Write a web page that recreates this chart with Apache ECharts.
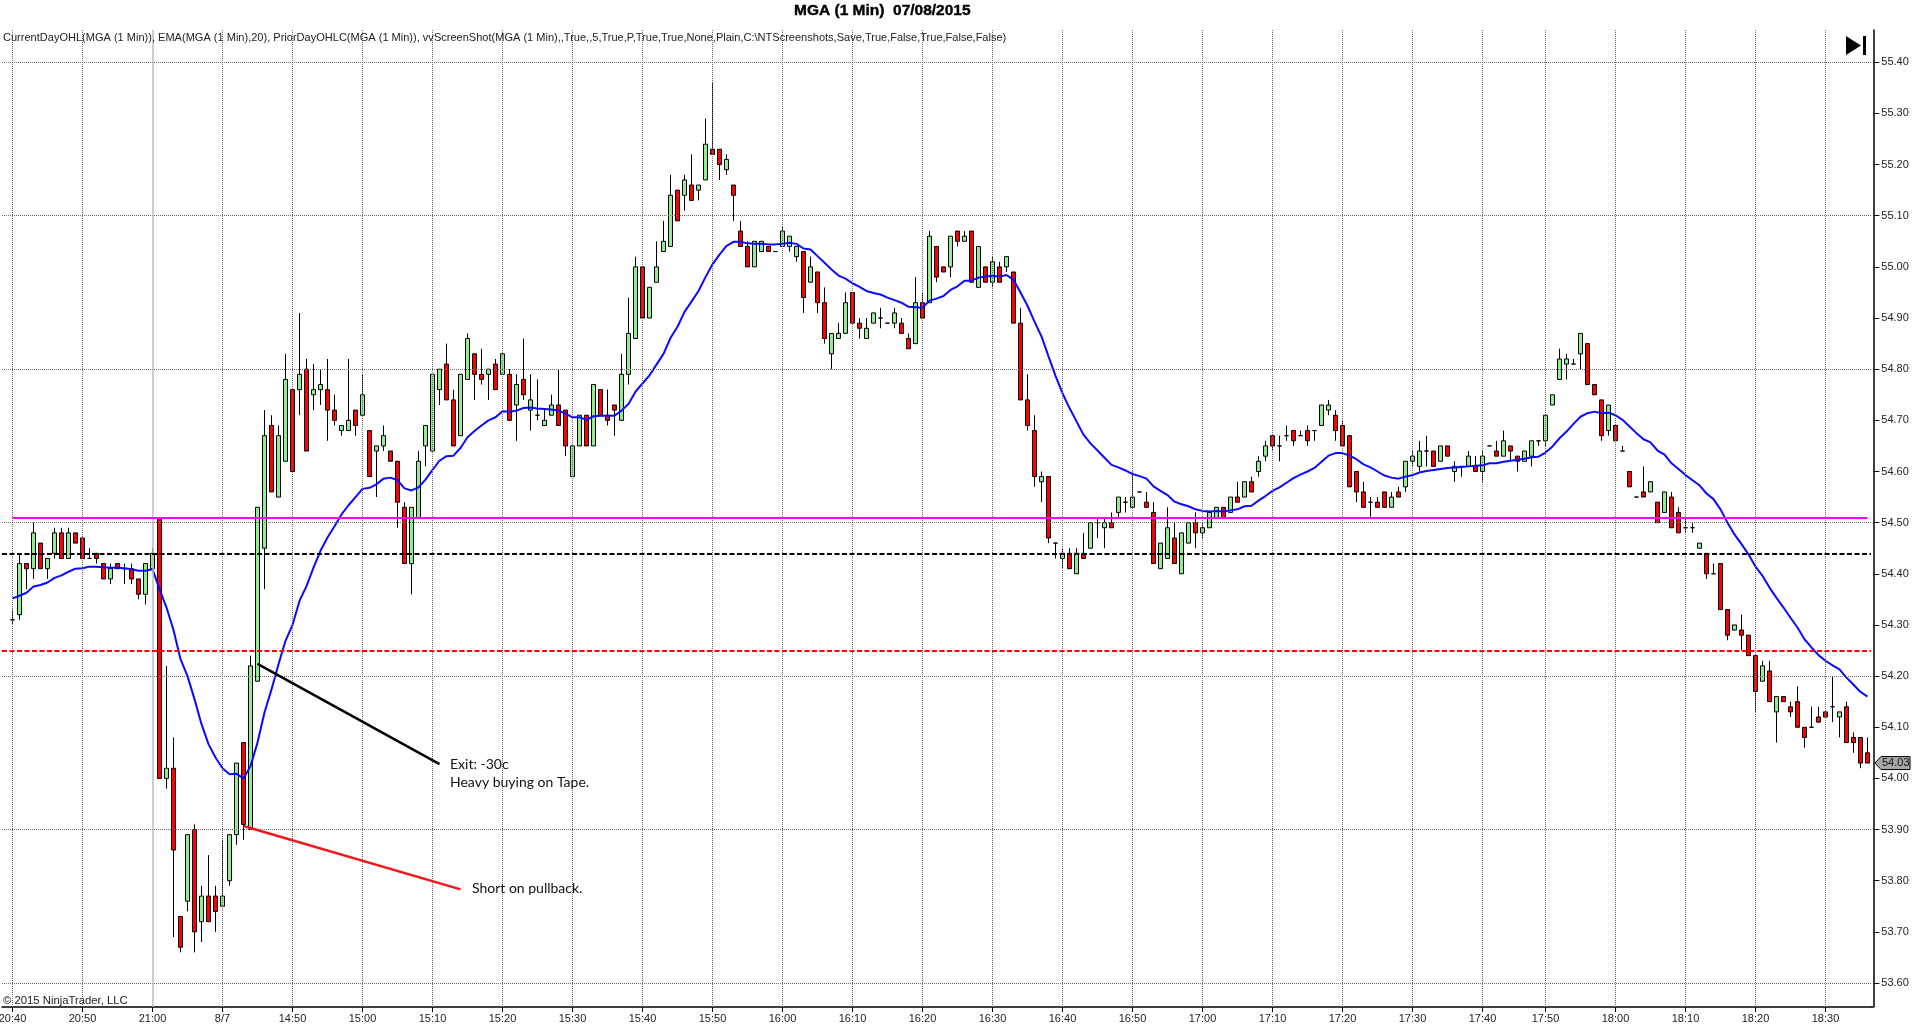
<!DOCTYPE html>
<html><head><meta charset="utf-8"><title>MGA (1 Min) 07/08/2015</title>
<style>html,body{margin:0;padding:0;background:#fff}#c{width:1920px;height:1034px}</style>
<script src="https://cdn.jsdelivr.net/npm/echarts@6/dist/echarts.min.js"></script>
</head><body><div id="c"></div>
<script>
const opens=[54.31,54.32,54.42,54.41,54.46,54.41,54.44,54.48,54.43,54.48,
54.47,54.43,54.44,54.42,54.39,54.42,54.41,54.41,54.39,54.36,
54.41,54.51,54.00,54.02,53.73,53.76,53.90,53.72,53.77,53.77,
53.75,53.80,53.89,54.07,53.90,54.19,54.45,54.69,54.55,54.62,
54.76,54.76,54.80,54.75,54.76,54.76,54.72,54.68,54.68,54.72,
54.71,54.68,54.64,54.65,54.64,54.62,54.53,54.42,54.51,54.65,
54.64,54.76,54.81,54.74,54.67,54.78,54.83,54.79,54.79,54.81,
54.79,54.79,54.73,54.78,54.72,54.71,54.69,54.71,54.73,54.72,
54.59,54.65,54.71,54.65,54.76,54.71,54.73,54.70,54.79,54.86,
55.00,54.90,54.97,55.03,55.04,55.15,55.14,55.16,55.15,55.17,
55.23,55.23,55.19,55.16,55.07,55.04,55.00,55.03,55.04,55.03,
55.04,55.04,55.02,55.03,54.97,54.99,54.93,54.83,54.86,54.87,
54.95,54.89,54.86,54.89,54.90,54.89,54.89,54.89,54.86,54.85,
54.93,54.93,55.04,55.00,55.00,55.07,55.05,55.07,54.96,55.00,
54.97,55.00,55.00,54.99,54.89,54.74,54.68,54.58,54.59,54.46,
54.43,54.44,54.40,54.44,54.45,54.50,54.49,54.50,54.52,54.54,
54.53,54.56,54.54,54.52,54.41,54.43,54.47,54.40,54.46,54.50,
54.48,54.49,54.51,54.53,54.52,54.55,54.55,54.58,54.60,54.63,
54.67,54.65,54.67,54.68,54.67,54.68,54.68,54.69,54.72,54.71,
54.69,54.67,54.60,54.56,54.54,54.54,54.56,54.53,54.56,54.57,
54.62,54.61,54.64,54.64,54.62,54.65,54.60,54.61,54.61,54.61,
54.60,54.65,54.64,54.63,54.65,54.63,54.62,54.63,54.66,54.66,
54.73,54.78,54.81,54.81,54.83,54.85,54.77,54.74,54.68,54.69,
54.64,54.60,54.55,54.56,54.56,54.54,54.52,54.55,54.52,54.49,
54.49,54.45,54.44,54.40,54.42,54.33,54.29,54.29,54.28,54.24,
54.19,54.21,54.13,54.16,54.14,54.15,54.10,54.10,54.12,54.13,
54.14,54.12,54.14,54.08,54.08,54.05];
const closes=[54.31,54.42,54.41,54.48,54.41,54.43,54.48,54.43,54.48,54.46,
54.43,54.43,54.43,54.39,54.41,54.41,54.41,54.39,54.36,54.42,
54.44,54.00,54.02,53.86,53.67,53.89,53.70,53.77,53.72,53.74,
53.77,53.89,54.03,53.91,54.22,54.53,54.67,54.56,54.67,54.78,
54.60,54.79,54.64,54.76,54.77,54.72,54.70,54.69,54.70,54.69,
54.75,54.59,54.65,54.67,54.62,54.54,54.42,54.53,54.62,54.69,
54.79,54.80,54.74,54.65,54.79,54.86,54.79,54.78,54.80,54.76,
54.83,54.70,54.77,54.75,54.74,54.71,54.70,54.73,54.69,54.65,
54.65,54.71,54.65,54.77,54.71,54.70,54.72,54.79,54.87,55.00,
54.90,54.96,55.00,55.05,55.14,55.09,55.17,55.13,55.16,55.24,
55.22,55.20,55.21,55.14,55.04,55.00,55.05,55.05,55.03,55.03,
55.07,55.06,55.04,54.94,55.00,54.93,54.86,54.87,54.87,54.93,
54.89,54.88,54.88,54.91,54.90,54.89,54.91,54.87,54.84,54.93,
54.90,55.06,54.98,54.99,55.06,55.05,55.06,54.97,55.04,54.97,
55.01,54.97,55.02,54.89,54.74,54.69,54.59,54.59,54.47,54.46,
54.44,54.41,54.44,54.43,54.50,54.50,54.50,54.49,54.55,54.54,
54.55,54.56,54.53,54.42,54.46,54.49,54.42,54.48,54.50,54.48,
54.49,54.52,54.53,54.51,54.55,54.54,54.58,54.56,54.62,54.65,
54.65,54.65,54.67,54.66,54.67,54.66,54.68,54.73,54.73,54.68,
54.65,54.57,54.56,54.53,54.54,54.53,54.53,54.55,54.55,54.62,
54.63,54.64,54.64,54.61,54.65,54.63,54.61,54.61,54.63,54.60,
54.63,54.65,54.63,54.66,54.64,54.62,54.64,54.66,54.66,54.71,
54.75,54.82,54.82,54.81,54.87,54.77,54.75,54.67,54.73,54.66,
54.64,54.57,54.55,54.55,54.58,54.50,54.56,54.49,54.48,54.49,
54.49,54.46,54.40,54.40,54.33,54.28,54.30,54.28,54.24,54.17,
54.22,54.15,54.16,54.15,54.13,54.10,54.08,54.10,54.11,54.12,
54.14,54.13,54.07,54.07,54.03,54.03];
const lows=[54.30,54.31,54.37,54.39,54.41,54.39,54.43,54.43,54.43,54.46,
54.43,54.43,54.42,54.39,54.38,54.41,54.38,54.38,54.35,54.34,
54.41,54.00,53.98,53.69,53.66,53.74,53.66,53.68,53.72,53.70,
53.75,53.79,53.87,53.88,53.90,54.19,54.37,54.56,54.55,54.62,
54.60,54.71,54.64,54.72,54.73,54.66,54.69,54.67,54.68,54.67,
54.71,54.59,54.55,54.64,54.62,54.49,54.42,54.36,54.51,54.61,
54.64,54.73,54.74,54.65,54.67,54.78,54.74,54.77,54.74,54.76,
54.79,54.70,54.66,54.74,54.68,54.70,54.69,54.71,54.69,54.63,
54.59,54.65,54.65,54.65,54.71,54.69,54.67,54.70,54.77,54.86,
54.90,54.90,54.97,55.03,55.04,55.09,55.11,55.13,55.13,55.17,
55.22,55.17,55.18,55.09,55.04,55.00,55.00,55.03,55.03,55.03,
55.04,55.03,55.01,54.91,54.97,54.91,54.85,54.80,54.86,54.87,
54.89,54.86,54.86,54.89,54.88,54.89,54.88,54.87,54.84,54.85,
54.90,54.93,54.97,54.99,54.98,55.04,55.05,54.97,54.96,54.97,
54.96,54.97,54.99,54.89,54.74,54.68,54.57,54.54,54.46,54.43,
54.41,54.41,54.40,54.43,54.45,54.47,54.45,54.49,54.51,54.52,
54.53,54.56,54.53,54.42,54.41,54.43,54.42,54.40,54.46,54.45,
54.47,54.49,54.51,54.51,54.52,54.54,54.55,54.56,54.59,54.62,
54.64,54.62,54.66,54.65,54.67,54.65,54.66,54.69,54.71,54.66,
54.65,54.57,54.54,54.53,54.51,54.53,54.53,54.53,54.55,54.56,
54.61,54.60,54.61,54.61,54.62,54.63,54.58,54.59,54.61,54.60,
54.58,54.65,54.63,54.63,54.62,54.60,54.62,54.61,54.65,54.65,
54.73,54.78,54.78,54.81,54.80,54.77,54.75,54.66,54.67,54.66,
54.64,54.57,54.55,54.55,54.56,54.50,54.52,54.49,54.48,54.48,
54.48,54.45,54.39,54.40,54.33,54.27,54.29,54.25,54.24,54.13,
54.19,54.15,54.07,54.15,54.12,54.10,54.06,54.10,54.11,54.12,
54.11,54.08,54.07,54.05,54.02,54.03];
const highs=[54.33,54.44,54.42,54.50,54.46,54.43,54.49,54.49,54.49,54.48,
54.47,54.45,54.44,54.42,54.42,54.42,54.42,54.42,54.39,54.42,
54.45,54.51,54.22,54.08,53.73,53.89,53.91,53.79,53.85,53.79,
53.88,53.89,54.03,54.07,54.24,54.53,54.72,54.71,54.69,54.83,
54.76,54.91,54.82,54.81,54.80,54.82,54.75,54.69,54.82,54.72,
54.79,54.68,54.65,54.69,54.64,54.62,54.54,54.53,54.64,54.69,
54.79,54.80,54.85,54.76,54.79,54.87,54.83,54.84,54.80,54.82,
54.83,54.80,54.79,54.86,54.79,54.78,54.72,54.75,54.80,54.72,
54.65,54.71,54.71,54.77,54.76,54.76,54.73,54.83,54.94,55.02,
55.00,54.96,55.05,55.09,55.18,55.15,55.18,55.22,55.16,55.29,
55.36,55.23,55.22,55.16,55.09,55.05,55.05,55.05,55.04,55.03,
55.08,55.06,55.04,55.03,55.02,54.99,54.96,54.87,54.89,54.95,
54.95,54.90,54.90,54.91,54.92,54.89,54.92,54.90,54.87,54.98,
54.95,55.07,55.04,55.00,55.06,55.07,55.07,55.07,55.04,55.00,
55.02,55.01,55.02,54.99,54.92,54.79,54.71,54.60,54.59,54.46,
54.45,54.45,54.45,54.48,54.50,54.51,54.51,54.52,54.55,54.55,
54.60,54.56,54.56,54.54,54.46,54.53,54.50,54.48,54.50,54.52,
54.50,54.52,54.53,54.53,54.55,54.58,54.58,54.59,54.63,54.66,
54.67,54.67,54.69,54.68,54.68,54.69,54.68,54.73,54.74,54.72,
54.70,54.67,54.60,54.58,54.55,54.55,54.56,54.56,54.57,54.62,
54.64,54.66,54.67,54.64,54.65,54.65,54.62,54.61,54.64,54.63,
54.64,54.65,54.66,54.68,54.65,54.63,54.64,54.66,54.66,54.71,
54.75,54.84,54.83,54.82,54.87,54.85,54.77,54.74,54.73,54.69,
54.65,54.60,54.55,54.61,54.58,54.54,54.56,54.56,54.53,54.51,
54.50,54.46,54.44,54.42,54.42,54.33,54.30,54.32,54.28,54.24,
54.23,54.23,54.16,54.16,54.15,54.18,54.10,54.14,54.14,54.13,
54.20,54.13,54.15,54.09,54.08,54.08];
const ema=[54.352,54.357,54.363,54.375,54.378,54.383,54.392,54.397,54.404,54.41,
54.411,54.414,54.414,54.413,54.412,54.412,54.411,54.409,54.406,54.406,
54.409,54.37,54.334,54.29,54.233,54.2,54.155,54.106,54.067,54.041,
54.02,54.008,54.009,54.0,54.024,54.07,54.129,54.174,54.223,54.269,
54.30,54.347,54.376,54.412,54.445,54.471,54.493,54.516,54.534,54.55,
54.566,54.568,54.575,54.586,54.588,54.583,54.567,54.563,54.569,54.584,
54.603,54.621,54.63,54.631,54.646,54.667,54.679,54.69,54.70,54.706,
54.718,54.717,54.719,54.724,54.725,54.723,54.722,54.721,54.719,54.713,
54.706,54.706,54.701,54.708,54.709,54.709,54.709,54.719,54.732,54.756,
54.772,54.788,54.809,54.83,54.861,54.883,54.912,54.932,54.953,54.98,
55.005,55.024,55.041,55.049,55.049,55.046,55.045,55.045,55.044,55.044,
55.045,55.047,55.045,55.036,55.034,55.021,55.008,54.995,54.983,54.977,
54.968,54.961,54.953,54.949,54.946,54.94,54.935,54.93,54.922,54.921,
54.92,54.934,54.938,54.943,54.955,54.962,54.973,54.973,54.979,54.981,
54.982,54.981,54.984,54.975,54.95,54.924,54.893,54.864,54.825,54.787,
54.753,54.724,54.698,54.672,54.655,54.641,54.627,54.613,54.608,54.602,
54.595,54.591,54.586,54.571,54.562,54.554,54.541,54.536,54.532,54.526,
54.523,54.522,54.523,54.522,54.524,54.526,54.532,54.533,54.543,54.552,
54.562,54.569,54.578,54.587,54.594,54.60,54.607,54.619,54.631,54.636,
54.636,54.631,54.624,54.614,54.608,54.60,54.592,54.588,54.586,54.59,
54.593,54.598,54.601,54.603,54.605,54.607,54.608,54.609,54.61,54.611,
54.612,54.616,54.616,54.619,54.621,54.623,54.625,54.628,54.629,54.637,
54.649,54.665,54.678,54.693,54.707,54.714,54.717,54.714,54.715,54.710,
54.701,54.688,54.675,54.663,54.657,54.641,54.633,54.616,54.605,54.593,
54.583,54.573,54.557,54.546,54.526,54.50,54.477,54.458,54.438,54.414,
54.396,54.373,54.353,54.334,54.314,54.295,54.272,54.256,54.241,54.23,
54.221,54.213,54.197,54.183,54.169,54.16];
const tickBars=[0,10,20,30,40,50,60,70,80,90,100,110,120,130,140,150,160,170,180,190,200,210,219,229,239,249,259];
const tickLabels=['20:40','20:50','21:00','8/7','14:50','15:00','15:10','15:20','15:30','15:40','15:50','16:00','16:10','16:20','16:30','16:40','16:50','17:00','17:10','17:20','17:30','17:40','17:50','18:00','18:10','18:20','18:30'];
const priceTicks=[53.6,53.7,53.8,53.9,54.0,54.1,54.2,54.3,54.4,54.5,54.6,54.7,54.8,54.9,55.0,55.1,55.2,55.3,55.4];
const priceGrid=[53.6,53.9,54.2,54.5,54.8,55.1,55.4];
const sessionBar=20;
const priorHigh=54.51, priorClose=54.441, priorLow=54.251;
const exitLineBars=[35,61], exitLinePrices=[54.224,54.028];
const shortLineBars=[33,64], shortLinePrices=[53.907,53.783];

const pad=1;
const labelAt={};tickBars.forEach((b,i)=>{labelAt[b+pad]=tickLabels[i]});
const categories=Array.from({length:opens.length+pad},(_,k)=>labelAt[k]||('bar'+(k-pad)));
const isTick=k=>labelAt[k]!==undefined;
const candles=[['-','-','-','-']].concat(opens.map((o,i)=>[o,closes[i],lows[i],highs[i]]));
const emaData=[null].concat(ema);
const toLine=(b,p)=>b.map((x,i)=>[x+pad,p[i]]);

const dot={color:'#6a6a6a',type:[1,1],width:1};
const chart=echarts.init(document.getElementById('c'),null,{renderer:'canvas'});
const option={
 animation:false,backgroundColor:'#fff',
 textStyle:{fontFamily:'"Liberation Sans",Arial,sans-serif'},
 title:[{text:'MGA (1 Min)  07/08/2015',left:794,top:3,padding:0,textStyle:{fontSize:15.5,fontWeight:'bold',color:'#000',textBorderColor:'#000',textBorderWidth:0.4,fontFamily:'"Liberation Sans",Arial,sans-serif'}}],
 grid:{left:2,top:30,width:1869,height:977,containLabel:false,outerBoundsMode:'none'},
 xAxis:{type:'category',data:categories,boundaryGap:true,
  axisLine:{onZero:false,lineStyle:{color:'#000',width:1.5}},
  axisTick:{show:true,alignWithLabel:true,interval:(k)=>isTick(k),length:5,lineStyle:{color:'#000'}},
  axisLabel:{interval:(k)=>isTick(k),color:'#222',fontSize:11,margin:6,hideOverlap:false},
  splitLine:{show:false}},
 yAxis:{type:'value',position:'right',offset:2.3,min:53.5531,max:55.4631,scale:true,
  axisLine:{show:true,onZero:false,lineStyle:{color:'#000',width:1.5}},
  axisTick:{show:true,length:6,customValues:priceTicks,lineStyle:{color:'#000'}},
  axisLabel:{customValues:priceTicks,formatter:v=>Number(v).toFixed(2),color:'#222',fontSize:11,margin:8},
  splitLine:{show:false}},
 series:[
  {name:'grid',type:'line',data:[],z:1,silent:true,showSymbol:false,
   markLine:{silent:true,symbol:'none',animation:false,label:{show:false},lineStyle:dot,
    data:priceGrid.map(v=>({yAxis:v})).concat(tickBars.map(b=>({xAxis:b+pad,lineStyle:b===sessionBar?{color:'#bdbdbd',type:'solid',width:1.5}:dot})))}},
  {name:'MGA',type:'candlestick',data:candles,z:2,barWidth:5,
   itemStyle:{color:'#90ee90',color0:'#ff0000',borderColor:'#000',borderColor0:'#000',borderColorDoji:'#000',borderWidth:1}},
  {name:'EMA',type:'line',data:emaData,z:4,showSymbol:false,smooth:false,connectNulls:false,
   lineStyle:{color:'#0a0aff',width:2}},
  {name:'levels',type:'line',data:[],z:3,silent:true,showSymbol:false,
   markLine:{silent:true,symbol:'none',animation:false,label:{show:false},
    data:[
     [{xAxis:pad,yAxis:priorHigh,lineStyle:{color:'#ff00ff',type:'solid',width:2}},{xAxis:opens.length-1+pad,yAxis:priorHigh}],
     {yAxis:priorClose,lineStyle:{color:'#000',type:[5,2.5],width:2}},
     {yAxis:priorLow,lineStyle:{color:'#ff0000',type:[5,2.5],width:2}}
    ]}},
  {name:'exit',type:'line',data:toLine(exitLineBars,exitLinePrices),z:5,showSymbol:false,lineStyle:{color:'#000',width:2.5}},
  {name:'short',type:'line',data:toLine(shortLineBars,shortLinePrices),z:5,showSymbol:false,lineStyle:{color:'#f01818',width:2.5}}
 ],
 graphic:[]
};
chart.setOption(option);
const lastY=chart.convertToPixel({yAxisIndex:0},closes[closes.length-1]);
const note=(t,x,y)=>({type:'text',x:x,y:y,z:50,style:{text:t,fontFamily:'Lato,"Open Sans",sans-serif',fontSize:14,fill:'#111',textVerticalAlign:'middle'}});
chart.setOption({graphic:[
 {type:'line',z:50,shape:{x1:1871,y1:1007,x2:1873.5,y2:1007},style:{stroke:'#000',lineWidth:1.5}},
 {type:'text',x:3,y:38,z:50,style:{text:'CurrentDayOHL(MGA (1 Min)), EMA(MGA (1 Min),20), PriorDayOHLC(MGA (1 Min)), vvScreenShot(MGA (1 Min),,True,,5,True,P,True,True,None,Plain,C:\\NTScreenshots,Save,True,False,True,False,False)',font:'11.04px "Liberation Sans",Arial,sans-serif',fill:'#222',textVerticalAlign:'middle'}},
 {type:'text',x:3,y:1001,z:50,style:{text:'\u00a9 2015 NinjaTrader, LLC',font:'11.3px "Liberation Sans",Arial,sans-serif',fill:'#222',textVerticalAlign:'middle'}},
 note('Exit: -30c',450,764),note('Heavy buying on Tape.',450,782),note('Short on pullback.',472,888),
 {type:'polygon',z:50,shape:{points:[[1846,36],[1861,45.5],[1846,55]]},style:{fill:'#000'}},
 {type:'rect',z:50,shape:{x:1863,y:36,width:3,height:19},style:{fill:'#000'}},
 {type:'polygon',z:50,shape:{points:[[1875,lastY],[1881,lastY-6.5],[1910,lastY-6.5],[1910,lastY+6.5],[1881,lastY+6.5]]},style:{fill:'#a8a8a8',stroke:'#000',lineWidth:1}},
 {type:'text',z:51,x:1882,y:lastY,style:{text:closes[closes.length-1].toFixed(2),font:'11px "Liberation Sans",Arial,sans-serif',fill:'#111',textVerticalAlign:'middle'}}
]});
</script></body></html>
